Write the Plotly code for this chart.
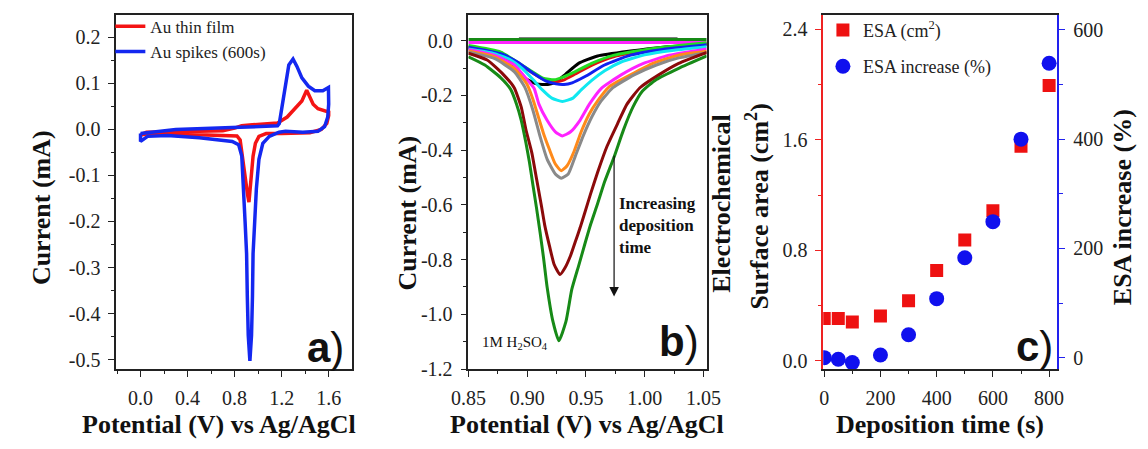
import plotly.graph_objects as go

W, H = 1148, 449
SERIF = "Liberation Serif"
SANS = "Liberation Sans"

# ---------------- panel a: cyclic voltammograms ----------------
cv_film_x = [0.000, 0.050, 0.300, 0.700, 0.800, 0.860, 0.950, 1.050, 1.165, 1.247, 1.316, 1.372,
             1.413, 1.440, 1.468, 1.509, 1.565, 1.600, 1.600, 1.584, 1.537, 1.440, 1.200, 1.068,
             1.007, 0.977, 0.957, 0.946, 0.935, 0.922, 0.911, 0.897, 0.875, 0.861, 0.847, 0.820,
             0.600, 0.300, 0.050, 0.000]
cv_film_y = [-0.012, -0.006, -0.005, -0.003, 0.003, 0.008, 0.010, 0.011, 0.014, 0.027, 0.045, 0.062,
             0.085, 0.069, 0.055, 0.045, 0.041, 0.038, 0.030, 0.013, 0.000, -0.007, -0.009, -0.009,
             -0.015, -0.030, -0.058, -0.093, -0.136, -0.158, -0.143, -0.115, -0.079, -0.044, -0.023,
             -0.014, -0.012, -0.010, -0.010, -0.012]

cv_spikes_x = [0.000, 0.090, 0.300, 0.780, 1.110, 1.165, 1.180, 1.206, 1.233, 1.261, 1.297, 1.330,
               1.372, 1.427, 1.482, 1.550, 1.598, 1.600, 1.592, 1.565, 1.509, 1.380, 1.233, 1.178,
               1.095, 1.040, 1.007, 0.985, 0.971, 0.957, 0.952, 0.944, 0.930, 0.916, 0.908, 0.902,
               0.889, 0.875, 0.861, 0.834, 0.780, 0.500, 0.230, 0.060, 0.000, 0.000]
cv_spikes_y = [-0.009, -0.006, 0.000, 0.004, 0.006, 0.008, 0.013, 0.055, 0.105, 0.140, 0.153, 0.137,
               0.112, 0.094, 0.084, 0.084, 0.091, 0.055, 0.027, 0.006, -0.004, -0.006, -0.004, -0.006,
               -0.015, -0.030, -0.065, -0.129, -0.200, -0.270, -0.362, -0.447, -0.503, -0.447, -0.362,
               -0.270, -0.200, -0.129, -0.058, -0.033, -0.026, -0.018, -0.013, -0.015, -0.026, -0.009]

a_xticks = [0.0, 0.4, 0.8, 1.2, 1.6]
a_xlabels = ["0.0", "0.4", "0.8", "1.2", "1.6"]
a_yticks = [0.2, 0.1, 0.0, -0.1, -0.2, -0.3, -0.4, -0.5]
a_ylabels = ["0.2", "0.1", "0.0", "-0.1", "-0.2", "-0.3", "-0.4", "-0.5"]

# ---------------- panel b: gold oxide reduction peaks ----------------
black_x = [0.850, 0.8776, 0.8914, 0.8983, 0.908, 0.9176, 0.9245, 0.9328, 0.9438, 0.960, 0.988, 1.0155, 1.053]
black_y = [-0.027, -0.053, -0.101, -0.137, -0.158, -0.160, -0.151, -0.122, -0.083, -0.056, -0.038, -0.024, -0.012]

red_x = [0.850, 0.8776, 0.8997, 0.9134, 0.9245, 0.931, 0.941, 0.9548, 0.9741, 1.0017, 1.0293, 1.053]
red_y = [-0.022, -0.045, -0.105, -0.140, -0.150, -0.144, -0.122, -0.090, -0.058, -0.036, -0.022, -0.012]

green_x = [0.850, 0.8776, 0.8997, 0.9134, 0.9231, 0.930, 0.941, 0.9548, 0.9741, 1.0017, 1.0293, 1.053]
green_y = [-0.018, -0.042, -0.101, -0.137, -0.143, -0.134, -0.113, -0.083, -0.053, -0.032, -0.018, -0.008]

blue_x = [0.850, 0.8776, 0.8914, 0.9052, 0.9162, 0.9245, 0.9314, 0.9383, 0.9493, 0.9659, 0.988, 1.0155, 1.053]
blue_y = [-0.024, -0.048, -0.077, -0.119, -0.148, -0.158, -0.160, -0.154, -0.131, -0.089, -0.053, -0.032, -0.015]

cyan_x = [0.850, 0.870, 0.885, 0.896, 0.905, 0.913, 0.921, 0.930, 0.939, 0.946, 0.955, 0.966, 0.980, 1.000, 1.025, 1.053]
cyan_y = [-0.030, -0.045, -0.068, -0.102, -0.142, -0.180, -0.210, -0.222, -0.210, -0.180, -0.145, -0.110, -0.078, -0.052, -0.035, -0.022]

magenta_x = [0.850, 0.872, 0.889, 0.900, 0.906, 0.910, 0.917, 0.924, 0.930, 0.937, 0.945, 0.953, 0.963, 0.980, 0.999, 1.021, 1.053]
magenta_y = [-0.032, -0.053, -0.089, -0.143, -0.175, -0.232, -0.291, -0.333, -0.348, -0.333, -0.291, -0.232, -0.175, -0.125, -0.083, -0.053, -0.030]

orange_x = [0.850, 0.872, 0.889, 0.900, 0.905, 0.910, 0.914, 0.919, 0.924, 0.929, 0.934, 0.940, 0.946, 0.953, 0.960, 0.970, 0.988, 1.007, 1.029, 1.053]
orange_y = [-0.038, -0.059, -0.101, -0.160, -0.215, -0.285, -0.340, -0.398, -0.451, -0.475, -0.457, -0.404, -0.333, -0.267, -0.220, -0.168, -0.125, -0.083, -0.053, -0.039]

gray_x = [0.850, 0.872, 0.889, 0.898, 0.905, 0.911, 0.917, 0.924, 0.929, 0.935, 0.941, 0.948, 0.955, 0.963, 0.973, 0.991, 1.010, 1.029, 1.053]
gray_y = [-0.042, -0.065, -0.113, -0.170, -0.255, -0.350, -0.433, -0.487, -0.503, -0.487, -0.422, -0.345, -0.279, -0.220, -0.172, -0.125, -0.089, -0.063, -0.044]

maroon_x = [0.850, 0.866, 0.880, 0.889, 0.895, 0.899, 0.904, 0.908, 0.912, 0.915, 0.919, 0.923, 0.928, 0.932,
            0.937, 0.941, 0.945, 0.949, 0.954, 0.960, 0.968, 0.977, 0.985, 0.996, 1.012, 1.029, 1.053]
maroon_y = [-0.046, -0.071, -0.125, -0.172, -0.243, -0.326, -0.410, -0.505, -0.600, -0.675, -0.750, -0.818, -0.855, -0.832,
            -0.785, -0.735, -0.685, -0.630, -0.560, -0.481, -0.386, -0.303, -0.232, -0.172, -0.125, -0.083, -0.043]

dkgreen_x = [0.850, 0.864, 0.8776, 0.886, 0.891, 0.895, 0.899, 0.902, 0.905, 0.908, 0.911, 0.914, 0.917, 0.922,
             0.927, 0.933, 0.938, 0.944, 0.949, 0.954, 0.960, 0.966, 0.974, 0.982, 0.990, 0.998, 1.010, 1.029, 1.053]
dkgreen_y = [-0.059, -0.089, -0.136, -0.178, -0.232, -0.291, -0.374, -0.445, -0.529, -0.612, -0.700, -0.795, -0.900, -1.027,
             -1.097, -1.027, -0.909, -0.820, -0.745, -0.672, -0.595, -0.515, -0.425, -0.326, -0.243, -0.185, -0.142, -0.101, -0.056]

# anodic return sweeps close to zero current
ret_dkgreen_x = [0.850, 1.053]
ret_dkgreen_y = [0.004, 0.004]
ret_black_x = [0.893, 1.028]
ret_black_y = [0.006, 0.006]
ret_magenta_x = [0.850, 1.053]
ret_magenta_y = [-0.007, -0.007]

b_xticks = [0.85, 0.90, 0.95, 1.00, 1.05]
b_xlabels = ["0.85", "0.90", "0.95", "1.00", "1.05"]
b_yticks = [0.0, -0.2, -0.4, -0.6, -0.8, -1.0, -1.2]
b_ylabels = ["0.0", "-0.2", "-0.4", "-0.6", "-0.8", "-1.0", "-1.2"]

# ---------------- panel c: electrochemical surface area ----------------
dep_time = [0, 50, 100, 200, 300, 400, 500, 600, 700, 800]
esa_cm2 = [0.306, 0.306, 0.282, 0.325, 0.435, 0.654, 0.875, 1.087, 1.553, 1.993]
esa_increase = [0, -3, -9, 5, 42, 108, 183, 249, 400, 539]

c_xticks = [0, 200, 400, 600, 800]
c_xlabels = ["0", "200", "400", "600", "800"]
c_yticks = [0.0, 0.8, 1.6, 2.4]
c_ylabels = ["0.0", "0.8", "1.6", "2.4"]
c_y2ticks = [0, 200, 400, 600]
c_y2labels = ["0", "200", "400", "600"]


def fx(p):
    return p / W


def fy(p):
    return 1 - p / H


fig = go.Figure()

# panel a traces
fig.add_trace(go.Scatter(x=cv_film_x, y=cv_film_y, mode="lines", name="Au thin film",
                         line=dict(color="#f41414", width=3.5), xaxis="x", yaxis="y", legend="legend"))
fig.add_trace(go.Scatter(x=cv_spikes_x, y=cv_spikes_y, mode="lines", name="Au spikes (600s)",
                         line=dict(color="#1428f0", width=3.5), xaxis="x", yaxis="y", legend="legend"))

# panel b traces
b_series = [
    (ret_magenta_x, ret_magenta_y, "#ff22ff"),
    (ret_black_x, ret_black_y, "#000000"),
    (black_x, black_y, "#000000"),
    (red_x, red_y, "#e01010"),
    (green_x, green_y, "#22dd22"),
    (blue_x, blue_y, "#1020f0"),
    (cyan_x, cyan_y, "#10e8f0"),
    (magenta_x, magenta_y, "#ff22ff"),
    (orange_x, orange_y, "#ff8a1a"),
    (gray_x, gray_y, "#8a8a8a"),
    (maroon_x, maroon_y, "#8b0a0a"),
    (dkgreen_x, dkgreen_y, "#178a17"),
    (ret_dkgreen_x, ret_dkgreen_y, "#178a17"),
]
for xs, ys, col in b_series:
    fig.add_trace(go.Scatter(x=xs, y=ys, mode="lines", showlegend=False,
                             line=dict(color=col, width=3, shape="spline", smoothing=0.5),
                             xaxis="x2", yaxis="y2"))

# panel c traces
fig.add_trace(go.Scatter(x=dep_time, y=esa_cm2, mode="markers", name="ESA (cm<sup>2</sup>)",
                         marker=dict(symbol="square", size=13, color="#ee1111"),
                         xaxis="x3", yaxis="y3", legend="legend2", legendgroup="esa"))
fig.add_trace(go.Scatter(x=dep_time, y=esa_increase, mode="markers", name="ESA increase (%)",
                         marker=dict(symbol="circle", size=15, color="#1010ee"),
                         xaxis="x3", yaxis="y4", legend="legend2", legendgroup="inc"))

tickfont = dict(family=SERIF, size=20, color="#222222")


def frame_axis(domain, rng, tickvals, ticktext, minor_dtick, minor_tick0, anchor, **kw):
    ax = dict(domain=domain, range=rng, anchor=anchor, showgrid=False, zeroline=False,
              showline=True, linecolor="#222222", linewidth=1.5, mirror=True,
              ticks="outside", ticklen=6, tickwidth=1.2, tickcolor="#222222",
              tickmode="array", tickvals=tickvals, ticktext=ticktext,
              tickfont=dict(tickfont), ticklabelstandoff=4,
              minor=dict(ticks="outside", ticklen=3.5, tickwidth=1.2, tickcolor="#222222",
                         tickmode="linear", tick0=minor_tick0, dtick=minor_dtick))
    ax.update(kw)
    return ax


ydom = [fy(378.3), fy(15)]

layout = dict(
    width=W, height=H, margin=dict(l=0, r=0, t=0, b=0),
    paper_bgcolor="white", plot_bgcolor="white",
    font=dict(family=SERIF, size=20, color="#222222"),
    xaxis=frame_axis([fx(101), fx(343.3)], [-0.207, 1.796], a_xticks, a_xlabels, 0.2, 0.0, "y"),
    yaxis=frame_axis(ydom, [-0.5206, 0.2495], a_yticks, a_ylabels, 0.05, 0.0, "x"),
    xaxis2=frame_axis([fx(463.3), fx(708.3)], [0.85, 1.0527], b_xticks, b_xlabels, 0.025, 0.85, "y2"),
    yaxis2=frame_axis(ydom, [-1.2, 0.0951], b_yticks, b_ylabels, 0.1, 0.0, "x2"),
    xaxis3=frame_axis([fx(828.3), fx(1069.3)], [-3.6, 829.8], c_xticks, c_xlabels, 100, 0, "y3"),
    yaxis3=frame_axis(ydom, [-0.0588, 2.506], c_yticks, c_ylabels, 0.4, 0.0, "x3",
                      mirror=False, linecolor="#ee2222", tickcolor="#ee2222"),
    yaxis4=frame_axis(ydom, [-20.8, 628], c_y2ticks, c_y2labels, 100, 0, "x3",
                      mirror=False, linecolor="#2222ee", tickcolor="#2222ee",
                      overlaying="y3", side="right"),
    legend=dict(x=fx(95), y=fy(9), xanchor="left", yanchor="top", bgcolor="rgba(0,0,0,0)",
                font=dict(family=SERIF, size=17, color="#222222"), itemwidth=30,
                tracegroupgap=0),
    legend2=dict(x=fx(828), y=fy(12), xanchor="left", yanchor="top", bgcolor="rgba(0,0,0,0)",
                 font=dict(family=SERIF, size=18, color="#222222"), itemwidth=30,
                 traceorder="grouped", tracegroupgap=10),
)
layout["yaxis3"]["minor"]["tickcolor"] = "#ee2222"
layout["yaxis4"]["minor"]["tickcolor"] = "#2222ee"
fig.update_layout(**layout)

title_font = dict(family=SERIF, size=26, color="#111111")
annotations = [
    # axis titles
    dict(x=fx(24), y=fy(213), text="<b>Current (mA)</b>", textangle=-90),
    dict(x=fx(207), y=fy(435), text="<b>Potential (V) vs Ag/AgCl</b>"),
    dict(x=fx(401), y=fy(218), text="<b>Current (mA)</b>", textangle=-90),
    dict(x=fx(585), y=fy(435), text="<b>Potential (V) vs Ag/AgCl</b>"),
    dict(x=fx(724), y=fy(208), text="<b>Electrochemical</b>", textangle=-90),
    dict(x=fx(761), y=fy(212), text="<b>Surface area (cm<sup>2</sup>)</b>", textangle=-90),
    dict(x=fx(1136), y=fy(212), text="<b>ESA increase (%)</b>", textangle=-90),
    dict(x=fx(948), y=fy(435), text="<b>Deposition time (s)</b>"),
]
for a in annotations:
    a.update(xref="paper", yref="paper", showarrow=False, xanchor="center", yanchor="middle",
             font=title_font)

# panel letters
for letter, xr, yc in [("a", 337, 356), ("b", 703, 350), ("c", 1067, 355)]:
    annotations.append(dict(xref="paper", yref="paper", x=fx(xr), y=fy(yc), xanchor="right",
                            yanchor="middle", showarrow=False,
                            text=f"<b>{letter}</b>)",
                            font=dict(family=SANS, size=42, color="#111111")))

# panel b notes
annotations.append(dict(xref="paper", yref="paper", x=fx(616), y=fy(231), xanchor="left",
                        yanchor="middle", showarrow=False, align="left",
                        text="<b>Increasing<br>deposition<br>time</b>",
                        font=dict(family=SERIF, size=17, color="#111111")))
annotations.append(dict(xref="x2", yref="y2", x=0.974, y=-0.935, ax=0.974, ay=-0.415,
                        axref="x2", ayref="y2", showarrow=True, arrowhead=2, arrowsize=1.6,
                        arrowwidth=1.2, arrowcolor="#111111", text=""))
annotations.append(dict(xref="paper", yref="paper", x=fx(475), y=fy(352), xanchor="left",
                        yanchor="middle", showarrow=False,
                        text="1M H<sub>2</sub>SO<sub>4</sub>",
                        font=dict(family=SERIF, size=15, color="#111111")))

fig.update_layout(annotations=annotations)
fig.write_html("out.html")
